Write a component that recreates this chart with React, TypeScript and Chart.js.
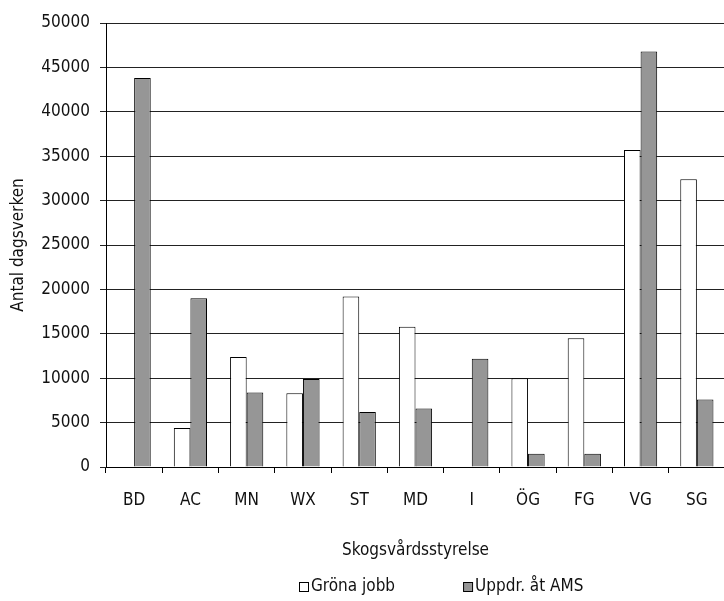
import React, { useEffect, useRef } from 'react';
import { Chart, registerables } from 'chart.js';

Chart.register(...registerables);

const categories = ['BD', 'AC', 'MN', 'WX', 'ST', 'MD', 'I', 'ÖG', 'FG', 'VG', 'SG'];
const gronaJobb = [0, 4400, 12400, 8300, 19200, 15800, 0, 10000, 14500, 35700, 32400];
const uppdrAMS = [43800, 19000, 8400, 9900, 6200, 6600, 12200, 1500, 1500, 46800, 7600];
const seriesLabels = ['Gröna jobb', 'Uppdr. åt AMS'];
const yMin = 0;
const yMax = 50000;
const yStep = 5000;
const xTitle = 'Skogsvårdsstyrelse';
const yTitle = 'Antal dagsverken';

const FONT = "'Liberation Sans Narrow', 'Arial Narrow', 'DejaVu Sans Condensed', sans-serif";
const FS = 17;

const legendPlugin = {
  id: 'customLegend',
  afterDraw(chart: any) {
    const ctx = chart.ctx;
    ctx.save();
    ctx.font = `${FS}px ${FONT}`;
    ctx.textBaseline = 'middle';
    const box = 9;
    const gapText = 3;
    const gapItem = 68;
    const items = chart.data.datasets.map((ds: any) => ({
      label: ds.label,
      fill: ds.backgroundColor,
      w: ctx.measureText(ds.label).width,
    }));
    const total =
      items.reduce((s: number, it: any) => s + box + gapText + it.w, 0) + gapItem * (items.length - 1);
    let x = Math.round(441 - total / 2);
    const y = 586;
    items.forEach((it: any) => {
      ctx.fillStyle = it.fill;
      ctx.fillRect(x + 0.5, Math.round(y - box / 2) + 0.5, box, box);
      ctx.strokeStyle = '#000';
      ctx.lineWidth = 1;
      ctx.strokeRect(x + 0.5, Math.round(y - box / 2) + 0.5, box, box);
      ctx.fillStyle = '#111';
      ctx.fillText(it.label, x + box + gapText, y + 1);
      x += box + gapText + it.w + gapItem;
    });
    ctx.restore();
  },
};

export default function App() {
  const ref = useRef<HTMLCanvasElement | null>(null);

  useEffect(() => {
    if (!ref.current) return;
    const chart = new Chart(ref.current, {
      type: 'bar',
      data: {
        labels: categories,
        datasets: [
          {
            label: seriesLabels[0],
            data: gronaJobb,
            backgroundColor: '#ffffff',
            borderColor: '#000000',
            borderWidth: 1,
          },
          {
            label: seriesLabels[1],
            data: uppdrAMS,
            backgroundColor: '#969696',
            borderColor: '#000000',
            borderWidth: 1,
          },
        ],
      },
      options: {
        responsive: false,
        animation: false,
        devicePixelRatio: 1,
        layout: { padding: { left: 0, top: 23, right: 7, bottom: 0 } },
        datasets: { bar: { categoryPercentage: 0.59, barPercentage: 1 } },
        plugins: {
          legend: { display: false },
          tooltip: { enabled: false },
        },
        scales: {
          x: {
            afterFit: (scale: any) => {
              scale.height = 134;
            },
            grid: {
              drawOnChartArea: false,
              drawTicks: true,
              tickLength: 6,
              color: '#000',
            },
            border: { color: '#000', width: 1 },
            ticks: {
              color: '#111',
              padding: 17,
              font: { family: FONT, size: FS },
              maxRotation: 0,
              autoSkip: false,
            },
            title: {
              display: true,
              text: xTitle,
              color: '#111',
              font: { family: FONT, size: FS },
              padding: { top: 0, bottom: 40 },
            },
          },
          y: {
            min: yMin,
            max: yMax,
            afterFit: (scale: any) => {
              scale.width = 106;
            },
            ticks: {
              stepSize: yStep,
              color: '#111',
              padding: 10,
              font: { family: FONT, size: FS },
              callback: (v: any) => String(v),
            },
            grid: {
              color: '#222',
              lineWidth: 1,
              drawTicks: true,
              tickLength: 6,
            },
            border: { color: '#000', width: 1 },
            title: {
              display: true,
              text: yTitle,
              color: '#111',
              font: { family: FONT, size: FS },
              padding: { top: 8, bottom: 0 },
            },
          },
        },
      },
      plugins: [legendPlugin],
    });
    return () => chart.destroy();
  }, []);

  return (
    <div
      style={{
        position: 'fixed',
        left: 0,
        top: 0,
        width: 724,
        height: 601,
        overflow: 'hidden',
        background: '#fff',
      }}
    >
      <canvas ref={ref} width={732} height={601} style={{ width: 732, height: 601, display: 'block' }} />
    </div>
  );
}
